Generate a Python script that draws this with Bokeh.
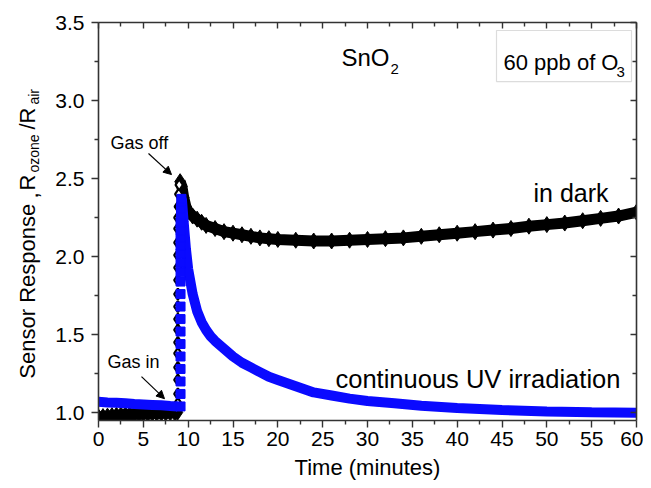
import math
from bokeh.plotting import figure
from bokeh.layouts import row
from bokeh.models import (Range1d, LinearAxis, Label, Arrow, NormalHead,
                          BoxAnnotation, FixedTicker, CustomJSTickFormatter)
from bokeh.core.properties import value
from bokeh.embed import file_html
from bokeh.resources import INLINE

# ---------------- data ----------------
dark_pre_t = [0.0, 0.5, 1.0, 1.5, 2.0, 2.5, 3.0, 3.5, 4.0, 4.5, 5.0, 5.5, 6.0,
              6.5, 7.0, 7.5, 8.0, 8.5, 8.8]
dark_pre_r = [0.972, 0.975, 0.978, 0.981, 0.983, 0.985, 0.987, 0.988, 0.990,
              0.991, 0.992, 0.994, 0.995, 0.996, 0.997, 0.998, 0.999, 1.000, 1.002]

dark_rise_t = [8.85, 8.85, 8.85, 8.85, 8.85, 8.85, 8.85, 8.85, 8.85, 8.85,
               8.85, 8.85, 8.85, 8.85, 8.85, 8.85, 8.9, 8.95, 9.0]
dark_rise_r = [1.06, 1.12, 1.21, 1.29, 1.38, 1.45, 1.53, 1.60, 1.68, 1.76,
               1.85, 1.93, 2.01, 2.09, 2.18, 2.25, 2.32, 2.40, 2.46]

dark_decay_t = [9.1, 9.3, 9.5, 9.75, 10.0, 10.5, 11.0, 11.5, 12.0, 13.0, 14.0,
                15.0, 16.0, 17.0, 18.0, 19.0, 20.0, 22.0, 24.0, 26.0, 28.0,
                30.0, 32.0, 34.0, 36.0, 38.0, 40.0, 42.0, 44.0, 46.0, 48.0,
                50.0, 52.0, 54.0, 56.0, 58.0, 60.0]
dark_decay_r = [2.48, 2.45, 2.38, 2.32, 2.29, 2.26, 2.24, 2.22, 2.20, 2.18, 2.16,
                2.15, 2.14, 2.13, 2.12, 2.115, 2.11, 2.105, 2.10, 2.10, 2.105,
                2.11, 2.115, 2.12, 2.13, 2.14, 2.15, 2.16, 2.17, 2.18, 2.195,
                2.205, 2.215, 2.23, 2.245, 2.26, 2.285]

uv_pre_t = [0.0, 1.0, 2.0, 3.0, 4.0, 5.0, 6.0, 7.0, 8.0, 8.8]
uv_pre_r = [1.070, 1.066, 1.063, 1.060, 1.056, 1.053, 1.050, 1.047, 1.043, 1.040]

uv_rise_t = [9.15, 9.15, 9.15, 9.15, 9.15, 9.15, 9.15, 9.15, 9.15, 9.15, 9.15,
             9.15, 9.15, 9.15, 9.15, 9.15, 9.15, 9.15, 9.2, 9.2, 9.25, 9.25]
uv_rise_r = [1.04, 1.12, 1.20, 1.28, 1.36, 1.44, 1.52, 1.60, 1.68, 1.76, 1.84,
             1.90, 1.96, 2.02, 2.07, 2.12, 2.17, 2.22, 2.27, 2.31, 2.35, 2.37]

uv_decay_t = [9.3, 9.5, 9.75, 10.0, 10.5, 11.0, 11.5, 12.0, 12.5, 13.0, 14.0,
              15.0, 16.0, 17.0, 18.0, 19.0, 20.0, 22.0, 24.0, 26.0, 28.0, 30.0,
              33.0, 36.0, 40.0, 45.0, 50.0, 55.0, 60.0]
uv_decay_r = [2.37, 2.22, 2.05, 1.92, 1.76, 1.65, 1.58, 1.53, 1.49, 1.46, 1.41,
              1.36, 1.32, 1.29, 1.26, 1.23, 1.21, 1.17, 1.13, 1.11, 1.09, 1.075,
              1.06, 1.045, 1.03, 1.017, 1.008, 1.003, 1.0]

x_ticks = [0, 5, 10, 15, 20, 25, 30, 35, 40, 45, 50, 55, 60]
x_minor = [2.5, 7.5, 12.5, 17.5, 22.5, 27.5, 32.5, 37.5, 42.5, 47.5, 52.5, 57.5]
y_ticks = [1.0, 1.5, 2.0, 2.5, 3.0, 3.5]
y_minor = [1.25, 1.75, 2.25, 2.75, 3.25]
y_tick_labels = ["1.0", "1.5", "2.0", "2.5", "3.0", "3.5"]

# ---------------- styling ----------------
FONT = "Liberation Sans"
AX = "#333333"
BLUE = "#0a0aff"
H = 486
LW = 44  # width of the strip holding the y-axis title

y_rng = Range1d(0.95, 3.5)
p = figure(width=599, height=H, output_backend="svg", toolbar_location=None,
           x_range=Range1d(0, 60), y_range=y_rng,
           min_border_left=98 - LW, min_border_right=7, min_border_top=22,
           min_border_bottom=H - 420, x_axis_location=None, y_axis_location=None)
p.grid.visible = False
p.outline_line_color = None


def style_axis(ax, ticks, minor, outer, labels):
    ax.ticker = FixedTicker(ticks=ticks, minor_ticks=minor)
    ax.axis_line_color = AX
    ax.axis_line_width = 1.6
    ax.major_tick_line_color = AX
    ax.minor_tick_line_color = AX
    ax.major_tick_line_width = 1.4
    ax.minor_tick_line_width = 1.4
    if outer:
        ax.major_tick_out, ax.major_tick_in = 7, 0
        ax.minor_tick_out, ax.minor_tick_in = 4, 0
    else:
        ax.major_tick_out, ax.major_tick_in = 0, 6
        ax.minor_tick_out, ax.minor_tick_in = 0, 4
    if labels:
        ax.major_label_text_font = FONT
        ax.major_label_text_font_size = "21px"
        ax.major_label_text_color = "black"
    else:
        ax.formatter = CustomJSTickFormatter(code="return ''")
        ax.major_label_standoff = 0


xb, xt, yl, yr = LinearAxis(), LinearAxis(), LinearAxis(), LinearAxis()
style_axis(xb, x_ticks, x_minor, True, True)
style_axis(xt, x_ticks, x_minor, False, False)
style_axis(yl, y_ticks, y_minor, True, True)
style_axis(yr, y_ticks, y_minor, False, False)
xb.major_label_standoff = 4
yl.major_label_standoff = 7
yl.major_label_overrides = dict(zip(y_ticks, y_tick_labels))
xb.axis_label = "Time (minutes)"
xb.axis_label_text_font = FONT
xb.axis_label_text_font_size = "22px"
xb.axis_label_text_font_style = "normal"
xb.axis_label_text_color = "black"
xb.axis_label_standoff = 6
p.add_layout(xb, "below")
p.add_layout(xt, "above")
p.add_layout(yl, "left")
p.add_layout(yr, "right")

# ---------------- data glyphs ----------------
for tt, rr in [(dark_pre_t, dark_pre_r), (dark_decay_t, dark_decay_r)]:
    p.line(tt, rr, line_color="black", line_width=11)
    p.scatter(tt, rr, marker="diamond", size=16, fill_color="black", line_color="black")
p.scatter(dark_rise_t, dark_rise_r, marker="diamond", size=11, fill_color="white",
          line_color="black", line_width=2.2)

for tt, rr in [(uv_pre_t, uv_pre_r), (uv_decay_t, uv_decay_r)]:
    p.line(tt, rr, line_color=BLUE, line_width=10)
p.scatter(uv_rise_t, uv_rise_r, marker="square", size=9, fill_color=BLUE, line_color=BLUE)


# ---------------- annotations (placed by page pixels) ----------------
def X(px):
    return (px - 98) / (538 / 60)


def Y(py):
    return 1.0 + (412 - py) / 156.0


def lab(text, px, py, size):
    p.add_layout(Label(x=X(px), y=Y(py), text=text, text_font=FONT,
                       text_font_size=f"{size}px", text_color="black",
                       text_baseline="alphabetic", text_align="left"))


lab("SnO", 341, 57, 24)
lab("2", 390, 68, 15)
lab("60 ppb of O", 503, 62, 22)
lab("3", 616, 71, 15)
p.add_layout(BoxAnnotation(left=X(496), right=X(631), top=Y(30), bottom=Y(81),
                           fill_color=None, line_color="#8a8a8a", line_width=1.2))
lab("in dark", 533, 192, 25)
lab("continuous UV irradiation", 335, 378, 25.5)
lab("Gas off", 110, 142, 18)
lab("Gas in", 107, 361, 18)

p.add_layout(Arrow(end=NormalHead(size=8, fill_color="black", line_color="black"),
                   x_start=X(148), y_start=Y(153), x_end=X(171), y_end=Y(174),
                   line_color="black", line_width=1.2))
p.add_layout(Arrow(end=NormalHead(size=8, fill_color="black", line_color="black"),
                   x_start=X(141), y_start=Y(376), x_end=X(164), y_end=Y(398),
                   line_color="black", line_width=1.2))

# ---------------- y-axis title strip ----------------
lf = figure(width=LW, height=H, output_backend="svg", toolbar_location=None,
            x_range=Range1d(0, LW), y_range=y_rng,
            min_border=0, x_axis_location=None, y_axis_location=None)
lf.grid.visible = False
lf.outline_line_color = None

R90 = math.pi / 2


def vlab(text, px, py, size):
    lf.text(x=[px], y=[Y(py)], text=[text], angle=R90,
            text_font=value(FONT), text_font_size=value(f"{size}px"),
            text_color="black", text_baseline="alphabetic", text_align="left")


vlab("Sensor Response", 27, 378, 22)
vlab(",", 30, 198, 22)
vlab("R", 27, 190, 22)
vlab("ozone", 33, 172, 14)
vlab("/R", 27, 129, 22)
vlab("air", 33, 104, 14)

layout = row(lf, p)
open("out.html", "w").write(file_html(layout, INLINE))
